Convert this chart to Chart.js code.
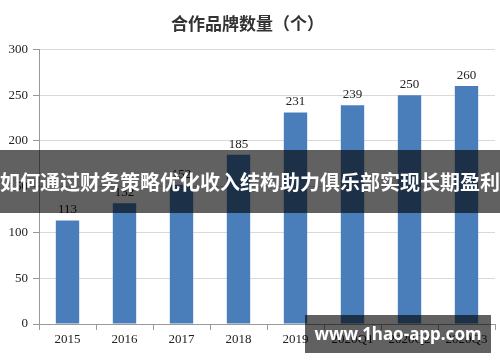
<!DOCTYPE html>
<html><head><meta charset="utf-8">
<script src="https://cdn.jsdelivr.net/npm/chart.js@4/dist/chart.umd.min.js"></script>
<style>
html,body{margin:0;padding:0;background:#fff;}
#wrap{position:relative;width:500px;height:362px;overflow:hidden;}
#banner{position:absolute;left:0;top:150px;width:500px;height:63px;background:rgba(0,0,0,0.62);color:#fff;
font-family:"Noto Sans CJK SC";font-weight:bold;font-size:20px;line-height:63px;text-align:center;white-space:nowrap;}
#wm{position:absolute;left:305px;top:315px;width:186px;height:38px;background:rgba(0,0,0,0.62);color:#fff;
font-family:"Noto Sans","DejaVu Sans";font-weight:bold;font-size:17px;line-height:38px;text-align:center;white-space:nowrap;}
</style></head>
<body><div id="wrap"><canvas id="c" width="500" height="362"></canvas>
<div id="banner">如何通过财务策略优化收入结构助力俱乐部实现长期盈利</div>
<div id="wm">www.1hao-app.com</div></div>
<script>
const categories = ["2015","2016","2017","2018","2019","2020Q1","2020Q2","2020Q3"];
const brandCounts = [113,132,152,185,231,239,250,260];
const yTicks = [0,50,100,150,200,250,300];
const titleText = "合作品牌数量（个）";

const valueLabels = {
  id:'valueLabels',
  afterDatasetsDraw(chart){
    const ctx = chart.ctx;
    const meta = chart.getDatasetMeta(0);
    ctx.save();
    ctx.font = '13px "Liberation Serif"';
    ctx.fillStyle = '#222';
    ctx.textAlign = 'center';
    ctx.textBaseline = 'bottom';
    meta.data.forEach((bar,i)=>{
      ctx.fillText(String(brandCounts[i]), bar.x, bar.y - 4);
    });
    ctx.restore();
  }
};

new Chart(document.getElementById('c'), {
  type:'bar',
  data:{labels:categories, datasets:[{data:brandCounts, backgroundColor:'#4a7ebb', barPercentage:0.41, categoryPercentage:1}]},
  options:{
    responsive:false, animation:false,
    layout:{padding:{left:0,right:5,top:0,bottom:0}},
    plugins:{
      legend:{display:false}, tooltip:{enabled:false},
      title:{display:true, text:titleText, color:'#333', font:{family:'"Noto Sans CJK SC"', size:17, weight:'bold'}, padding:{top:13,bottom:16}}
    },
    scales:{
      x:{
        grid:{offset:true, drawOnChartArea:false, tickLength:6, color:'#999'},
        border:{color:'#999'},
        ticks:{color:'#222', font:{family:'"Liberation Serif"', size:13}, padding:2, maxRotation:0, autoSkip:false},
        afterFit(s){ s.height = 38; }
      },
      y:{
        min:0, max:300,
        afterBuildTicks(s){ s.ticks = yTicks.map(v=>({value:v})); },
        grid:{color:'#d9d9d9', drawTicks:true, tickLength:6, tickColor:'#999'},
        border:{color:'#999'},
        ticks:{color:'#222', font:{family:'"Liberation Serif"', size:13}, padding:5},
        afterFit(s){ s.width = 39; }
      }
    }
  },
  plugins:[valueLabels]
});
</script></body></html>
